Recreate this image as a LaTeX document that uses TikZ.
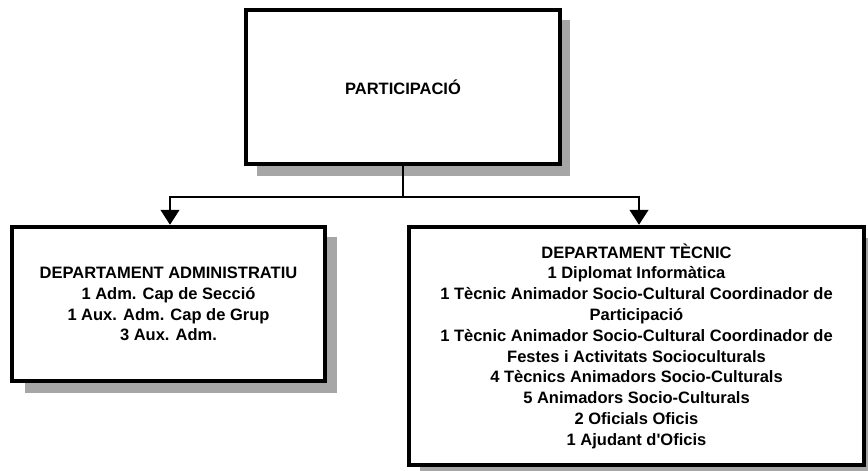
\documentclass[tikz,border=0pt]{standalone}
\usepackage{fontspec}
\setmainfont{Liberation Sans}[Ligatures=TeXOff]
\usetikzlibrary{arrows.meta}
\tikzset{
  box/.style={draw=black, line width=4.5pt, fill=white, rectangle, align=center,
    font=\bfseries\fontsize{16.5}{20.8}\selectfont, inner sep=0pt},
  shade/.style={fill=black!35, draw=none},
  conn/.style={line width=1.3pt, draw=black},
  tip/.style={-{Triangle[width=19pt,length=15pt]}}
}
\begin{document}
\begin{tikzpicture}[x=1pt,y=-1pt]
\useasboundingbox (0,0) rectangle (868,471);
% shadows
\fill[shade] (257,20) rectangle (570,176);
\fill[shade] (25,237) rectangle (337,393);
\fill[shade] (420,238) rectangle (878,480);
% boxes
\node[box, minimum width=314pt, minimum height=154pt] (top) at (403,87) {PARTICIPACIÓ};
\node[box, minimum width=313pt, minimum height=154pt] (adm) at (168.5,304)
  {DEPARTAMENT ADMINISTRATIU\\1 Adm. Cap de Secció\\1 Aux. Adm. Cap de Grup\\3 Aux. Adm.};
\node[box, minimum width=455pt, minimum height=238pt] (tec) at (636.5,346)
  {DEPARTAMENT TÈCNIC\\1 Diplomat Informàtica\\1 Tècnic Animador Socio-Cultural Coordinador de\\Participació\\1 Tècnic Animador Socio-Cultural Coordinador de\\Festes i Activitats Socioculturals\\4 Tècnics Animadors Socio-Culturals\\5 Animadors Socio-Culturals\\2 Oficials Oficis\\1 Ajudant d'Oficis};
% connectors
\coordinate (bus) at (403,197);
\draw[conn] (top.south) -- (bus);
\draw[conn, tip] (bus) -| ([xshift=1.5pt]adm.north);
\draw[conn, tip] (bus) -| ([xshift=2.5pt]tec.north);
\end{tikzpicture}
\end{document}
